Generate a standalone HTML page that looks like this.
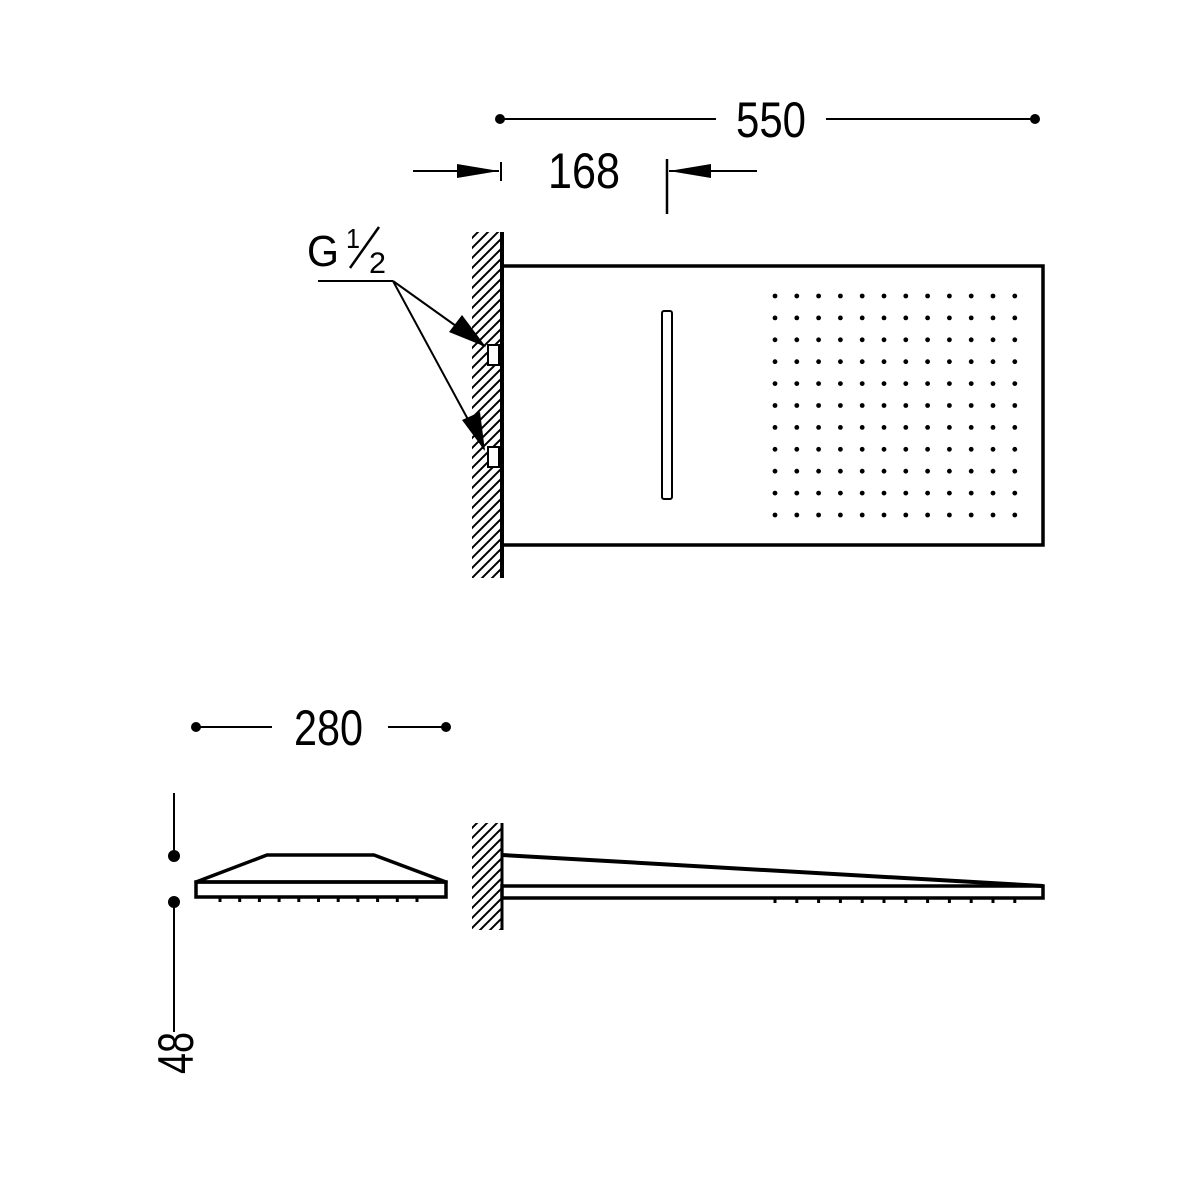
<!DOCTYPE html>
<html><head><meta charset="utf-8"><style>
html,body{margin:0;padding:0;background:#fff;}
svg{display:block}
text{font-family:"Liberation Sans",sans-serif;fill:#000}
</style></head><body>
<svg width="1200" height="1200" viewBox="0 0 1200 1200" xmlns="http://www.w3.org/2000/svg">
<defs>
<pattern id="h" width="10" height="10" patternUnits="userSpaceOnUse">
<path d="M-2.5,12.5 L12.5,-2.5 M-2.5,2.5 L2.5,-2.5 M7.5,12.5 L12.5,7.5" stroke="#000" stroke-width="2"/>
</pattern>
</defs>
<rect width="1200" height="1200" fill="#fff"/>
<!-- 550 -->
<circle cx="500" cy="119" r="5"/>
<circle cx="1035" cy="119" r="5"/>
<line x1="500" y1="119" x2="716" y2="119" stroke="#000" stroke-width="2"/>
<line x1="826" y1="119" x2="1035" y2="119" stroke="#000" stroke-width="2"/>
<text x="736" y="137" font-size="50" textLength="70" lengthAdjust="spacingAndGlyphs">550</text>
<!-- 168 -->
<line x1="413" y1="171" x2="499" y2="171" stroke="#000" stroke-width="2"/>
<polygon points="499,171 457,164 457,178"/>
<line x1="501" y1="162" x2="501" y2="181" stroke="#000" stroke-width="2"/>
<line x1="667" y1="159" x2="667" y2="214" stroke="#000" stroke-width="2.5"/>
<line x1="669" y1="171" x2="757" y2="171" stroke="#000" stroke-width="2"/>
<polygon points="669,171 711,164 711,178"/>
<text x="548" y="188" font-size="50" textLength="72" lengthAdjust="spacingAndGlyphs">168</text>
<!-- G1/2 -->
<text x="307" y="266" font-size="44" textLength="32" lengthAdjust="spacingAndGlyphs">G</text>
<text x="346" y="248" font-size="28" textLength="14" lengthAdjust="spacingAndGlyphs">1</text>
<line x1="350" y1="268" x2="379" y2="227" stroke="#000" stroke-width="2.5"/>
<text x="369" y="273" font-size="30" textLength="17" lengthAdjust="spacingAndGlyphs">2</text>
<line x1="318" y1="281" x2="393" y2="281" stroke="#000" stroke-width="2"/>
<line x1="393" y1="281" x2="484" y2="346" stroke="#000" stroke-width="2"/>
<polygon points="486,347 449,332 462,315"/>
<line x1="393" y1="281" x2="484" y2="449" stroke="#000" stroke-width="2"/>
<polygon points="485,451 462,420 480,412"/>
<!-- top wall -->
<rect x="472" y="232" width="30" height="346" fill="url(#h)"/>
<line x1="502" y1="232" x2="502" y2="578" stroke="#000" stroke-width="4"/>
<rect x="488" y="345" width="11" height="20" fill="#fff" stroke="#000" stroke-width="2"/>
<rect x="488" y="447" width="11" height="20" fill="#fff" stroke="#000" stroke-width="2"/>
<!-- main plate -->
<rect x="502" y="266" width="541" height="279" fill="none" stroke="#000" stroke-width="3.5"/>
<rect x="662" y="311" width="10" height="188" rx="2" fill="none" stroke="#000" stroke-width="2"/>
<g id="dots"></g>
<!-- 280 -->
<circle cx="196" cy="727" r="5"/>
<circle cx="446" cy="727" r="5"/>
<line x1="196" y1="727" x2="272" y2="727" stroke="#000" stroke-width="2"/>
<line x1="388" y1="727" x2="446" y2="727" stroke="#000" stroke-width="2"/>
<text x="294" y="745" font-size="50" textLength="69" lengthAdjust="spacingAndGlyphs">280</text>
<!-- 48 -->
<line x1="174" y1="793" x2="174" y2="855" stroke="#000" stroke-width="2"/>
<circle cx="174" cy="856" r="6"/>
<circle cx="174" cy="902" r="6"/>
<line x1="174" y1="902" x2="174" y2="1032" stroke="#000" stroke-width="2"/>
<text transform="translate(193,1074) rotate(-90)" font-size="50" textLength="42" lengthAdjust="spacingAndGlyphs">48</text>
<!-- left side view -->
<polygon points="196,882 267,855 374,855 446,882" fill="none" stroke="#000" stroke-width="3.5" stroke-linejoin="round"/>
<rect x="196" y="882" width="250" height="15" fill="none" stroke="#000" stroke-width="3.5"/>
<g id="t1"></g>
<!-- right side view -->
<rect x="472" y="823" width="30" height="107" fill="url(#h)"/>
<line x1="502" y1="823" x2="502" y2="930" stroke="#000" stroke-width="3"/>
<line x1="502" y1="855" x2="1043" y2="886" stroke="#000" stroke-width="4"/>
<rect x="502" y="886" width="541" height="12" fill="none" stroke="#000" stroke-width="3.5"/>
<g id="t2"></g>
<script>
var ns="http://www.w3.org/2000/svg";
var g=document.getElementById("dots");
for(var r=0;r<11;r++)for(var c=0;c<12;c++){var e=document.createElementNS(ns,"circle");e.setAttribute("cx",775+c*21.8);e.setAttribute("cy",296+r*21.9);e.setAttribute("r",2.4);g.appendChild(e);}
var t1=document.getElementById("t1");
for(var i=0;i<11;i++){var e=document.createElementNS(ns,"rect");e.setAttribute("x",220+i*19.7-1.5);e.setAttribute("y",898);e.setAttribute("width",3);e.setAttribute("height",4);t1.appendChild(e);}
var t2=document.getElementById("t2");
for(var i=0;i<12;i++){var e=document.createElementNS(ns,"rect");e.setAttribute("x",775+i*21.8-1.5);e.setAttribute("y",899);e.setAttribute("width",3);e.setAttribute("height",4);t2.appendChild(e);}
</script>
</svg>
</body></html>
